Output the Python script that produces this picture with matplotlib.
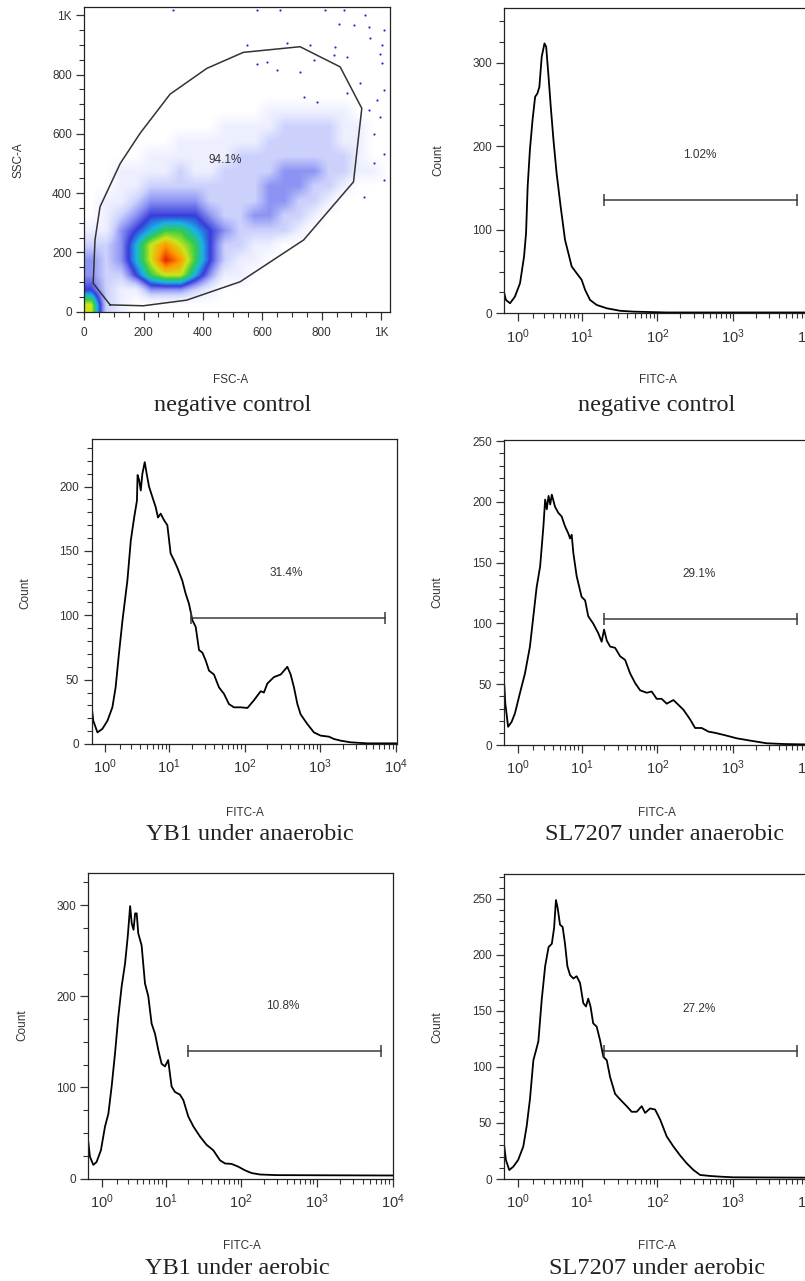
# Flow cytometry panels: FSC/SSC dot plot + FITC histograms (FlowJo style)
import numpy as np
import matplotlib
matplotlib.use('Agg')
import matplotlib.pyplot as plt
from matplotlib.colors import LinearSegmentedColormap

plt.rcParams['font.family'] = ['Liberation Sans', 'DejaVu Sans']

W, H = 805, 1281

# ---------------- FSC-A / SSC-A dot plot ----------------
gate_fsc = [87, 199, 345, 525, 739, 907, 924, 935, 862, 727, 536, 413, 289, 188, 121, 53, 36, 30, 87]
gate_ssc = [23, 20, 39, 101, 242, 438, 590, 686, 826, 894, 875, 821, 734, 602, 500, 354, 242, 96, 23]
gate_pct = '94.1%'

# relative event density on a 50-unit grid, top row = SSC 1000-1050, bottom row = SSC 0-50
density_rows = [
    "000000000000000000000",
    "000000000000000000000",
    "000000000000000000000",
    "000000000000000000000",
    "000000000000000000000",
    "000000000000000000000",
    "000000000000000000000",
    "000000000000111111000",
    "000000000111122221100",
    "000000111111222221100",
    "000011111122222222100",
    "001111211222233322110",
    "001122222222333221000",
    "011233332222332210000",
    "012344443223322100000",
    "113456654322221000000",
    "223578764221100000000",
    "323579864211000000000",
    "322467753110000000000",
    "421133321000000000000",
    "721000000000000000000",
]

outlier_fsc = [300, 581, 660, 812, 874, 947, 857, 908, 958, 1009, 964, 1003, 846, 997, 840, 581, 615,
               773, 885, 1003, 930, 1009, 986, 885, 739, 784, 649, 728, 958, 997, 975, 1009, 975,
               1009, 941, 548, 683, 761]
outlier_ssc = [1017, 1017, 1017, 1017, 1017, 1001, 970, 967, 961, 950, 922, 899, 894, 871, 865, 837,
               843, 849, 860, 838, 770, 748, 714, 737, 726, 708, 815, 809, 680, 657, 601, 533, 500,
               446, 388, 899, 905, 899]

# ---------------- FITC-A histograms ----------------
neg_fitc = [0.29, 0.37, 0.58, 0.84, 1.13, 1.38, 1.51, 1.62, 1.78, 1.98, 2.18, 2.37, 2.55, 2.77, 3.05,
            3.23, 3.50, 3.76, 4.11, 4.55, 5.18, 5.95, 6.61, 7.33, 8.55, 9.98, 11.1, 12.9, 15.8, 21.5,
            32.3, 48.3, 133, 8930, 10000]
neg_count = [24, 16, 12, 20, 36, 68, 96, 152, 196, 232, 259, 263, 271, 307, 323, 319, 283, 248, 208,
             168, 128, 88, 72, 56, 48, 40, 28, 16, 10, 6, 3, 2, 1, 1, 1]

yb1_an_fitc = [0.29, 0.37, 0.58, 0.84, 1.13, 1.44, 1.66, 1.90, 2.18, 2.61, 2.94, 3.30, 3.62, 3.70, 3.90,
               4.11, 4.33, 4.67, 4.97, 5.36, 5.95, 6.61, 7.10, 7.72, 8.55, 9.49, 10.5, 11.6, 12.9, 15.0,
               16.6, 18.4, 20.5, 22.6, 25.0, 27.7, 30.6, 33.9, 39.4, 45.9, 53.4, 62.2, 72.4, 88.8, 109,
               133, 163, 180, 200, 244, 300, 367, 406, 449, 498, 550, 674, 824, 1010, 1300, 1514, 1855,
               2515, 4178, 10000]
yb1_an_count = [28.5, 18, 9, 11.7, 18, 28.5, 44, 70, 96, 127, 158, 176, 189, 209, 205, 197, 210, 219,
                210, 200, 192, 184, 176, 179, 174, 170, 148, 143, 137, 127, 117, 109, 96, 91, 73, 71, 65,
                57, 54, 44, 39, 31, 28.5, 28.5, 28, 34, 41, 40, 47, 52, 54, 60, 54, 44, 31, 23, 15.5, 9,
                6.5, 5.7, 3.9, 2.6, 1.3, 0.5, 0.5]

sl_an_fitc = [0.29, 0.34, 0.40, 0.48, 0.66, 0.84, 1.13, 1.44, 1.78, 2.04, 2.31, 2.62, 2.94, 3.12, 3.30,
              3.50, 3.70, 3.90, 4.33, 4.82, 5.36, 5.95, 6.61, 6.97, 7.33, 7.72, 8.55, 9.95, 11.1, 12.2,
              14.2, 16.6, 18.4, 19.8, 21.5, 23.8, 27.7, 32.3, 37.6, 43.7, 50.9, 59.3, 72.4, 84.3, 98.1,
              114, 133, 163, 190, 221, 271, 315, 385, 473, 579, 785, 1117, 1679, 2780, 4618, 8933, 10000]
sl_an_count = [49, 34, 26, 15, 19, 26, 43, 59, 81, 106, 130, 147, 180, 202, 194, 205, 198, 206, 196, 191,
               188, 180, 174, 170, 173, 158, 139, 122, 119, 106, 100, 92, 85, 95, 86, 81, 80, 73, 70, 59,
               51, 45, 43, 44, 38, 38, 34, 37, 33, 29, 21, 14, 14, 11, 10, 8, 5.5, 3.6, 1.4, 0.8, 0.5, 0.5]

yb1_ae_fitc = [0.29, 0.37, 0.54, 0.71, 0.95, 1.19, 1.40, 1.62, 1.86, 2.12, 2.40, 2.71, 2.98, 3.23, 3.41,
               3.62, 3.82, 4.02, 4.23, 4.71, 5.25, 5.83, 6.47, 7.19, 7.97, 8.82, 9.79, 10.8, 12.0, 13.3,
               15.5, 17.2, 20.0, 23.4, 28.6, 34.9, 42.8, 52.5, 61.1, 74.6, 91.5, 112, 137, 177, 293, 10000]
yb1_ae_count = [40, 24, 15, 18, 31, 57, 71, 101, 137, 178, 211, 236, 266, 299, 280, 273, 291, 291, 269,
                256, 214, 200, 170, 159, 141, 126, 123, 130, 101, 95, 92, 86, 68, 57, 46, 37, 31, 20,
                16.5, 16, 13, 9, 6, 4.4, 3.7, 3.3]

sl_ae_fitc = [0.29, 0.37, 0.54, 0.75, 1.02, 1.33, 1.55, 1.78, 2.04, 2.26, 2.46, 2.77, 3.12, 3.50, 3.90,
              4.20, 4.46, 4.71, 5.08, 5.52, 5.95, 6.41, 6.97, 7.72, 8.55, 9.49, 10.5, 11.4, 12.2, 13.1,
              14.2, 15.8, 17.5, 19.4, 21.5, 23.8, 27.7, 32.3, 39.4, 45.9, 53.4, 62.2, 69.0, 80.3, 93.5,
              109, 133, 163, 200, 244, 300, 367, 498, 674, 1010, 8933, 10000]
sl_ae_count = [29, 17, 8, 11, 17, 29, 47, 71, 106, 115, 123, 160, 190, 207, 210, 224, 249, 242, 227, 225,
               210, 190, 182, 179, 181, 175, 157, 154, 161, 154, 139, 136, 124, 109, 106, 91, 76, 71, 65,
               60, 60, 65, 59, 63, 62, 53, 38, 29, 21, 14, 8, 3.6, 2.7, 2.1, 1.5, 1.2, 1.2]

gate_lo, gate_hi = 19.7, 7050
pct_labels = ['1.02%', '31.4%', '29.1%', '10.8%', '27.2%']
gate_levels = [135, 98, 104, 140, 114]
pct_levels = [190, 133, 141, 189, 152]
titles = ['negative control', 'negative control', 'YB1 under anaerobic', 'SL7207 under anaerobic',
          'YB1 under aerobic', 'SL7207 under aerobic']

TXT = '#333333'
fig = plt.figure(figsize=(W / 100, H / 100), dpi=100)


def box(left, top, right, bottom):
    return fig.add_axes([left / W, 1 - bottom / H, (right - left) / W, (bottom - top) / H])


def ftext(px, py, s, **kw):
    fig.text(px / W, 1 - py / H, s, ha='center', va='center', **kw)


def style(ax):
    for sp in ax.spines.values():
        sp.set_linewidth(0.9)
        sp.set_color('#222222')
    ax.tick_params(which='major', direction='out', length=6, width=0.9, pad=3,
                   labelsize=8.5, labelcolor=TXT, color='#333333')
    ax.tick_params(which='minor', direction='out', length=3.5, width=0.8, color='#333333')


# ---------------- dot plot ----------------
ax = box(84.3, 7, 390, 311.7)
dens = np.array([[int(c) for c in row] for row in density_rows[::-1]], dtype=float)
cmap = LinearSegmentedColormap.from_list('flow', [
    (1, 1, 1), (0.93, 0.94, 1.0), (0.80, 0.82, 0.99), (0.55, 0.58, 0.95), (0.22, 0.24, 0.86),
    (0.1, 0.7, 0.9), (0.2, 0.8, 0.3), (0.8, 0.9, 0.1), (1.0, 0.6, 0.0), (0.9, 0.15, 0.0)])
ax.imshow(dens, origin='lower', extent=(0, 1050, 0, 1050), cmap=cmap, vmin=0, vmax=9,
          interpolation='bilinear', aspect='auto')
ax.scatter(outlier_fsc, outlier_ssc, s=2.5, color='#2a2ad0', linewidths=0)
ax.plot(gate_fsc, gate_ssc, color='#333333', lw=1.1)
ax.text(475, 512, gate_pct, ha='center', va='center', fontsize=8.5, color=TXT)
ax.set_xlim(0, 1030)
ax.set_ylim(0, 1028)
lin_major = [0, 200, 400, 600, 800, 1000]
lin_labels = ['0', '200', '400', '600', '800', '1K']
lin_minor = [v for v in range(50, 1001, 50) if v % 200]
ax.set_xticks(lin_major, lin_labels)
ax.set_yticks(lin_major, lin_labels)
ax.set_xticks(lin_minor, minor=True)
ax.set_yticks(lin_minor, minor=True)
style(ax)
ax.tick_params(axis='x', which='major', pad=5)
ftext(18, 160, 'SSC-A', fontsize=8.5, color=TXT, rotation=90)
ftext(231, 380, 'FSC-A', fontsize=8.5, color=TXT)


# ---------------- histograms ----------------
def fwd(x):
    return np.arcsinh(np.asarray(x) / 1.6)


def inv(y):
    return 1.6 * np.sinh(np.asarray(y))


dec_major = [1, 10, 100, 1000, 10000]
dec_labels = [r'$\mathregular{10^{%d}}$' % k for k in range(5)]
dec_minor = [m * 10 ** k for k in range(4) for m in range(2, 10)]

hists = [
    # (left, top, right, bottom), fitc, count, ymax, major step, minor step, count label pos, xlabel pos
    ((504.3, 8.3, 809.6, 313.3), neg_fitc, neg_count, 365, 100, 25, (438, 160), (658, 380)),
    ((91.7, 439, 396.7, 744), yb1_an_fitc, yb1_an_count, 237, 50, 10, (25, 593), (245, 813)),
    ((504.3, 440, 809.6, 745), sl_an_fitc, sl_an_count, 251, 50, 10, (437, 592), (657, 813)),
    ((88.3, 873.3, 393.3, 1178.5), yb1_ae_fitc, yb1_ae_count, 335, 100, 25, (22, 1025), (242, 1246)),
    ((504.3, 874.3, 809.6, 1179), sl_ae_fitc, sl_ae_count, 272, 50, 10, (437, 1027), (657, 1246)),
]

for i, (pos, fitc, count, ymax, step, mstep, cpos, xpos) in enumerate(hists):
    ax = box(*pos)
    ax.plot(fitc, count, color='black', lw=1.3)
    ax.set_xscale('function', functions=(fwd, inv))
    ax.set_xlim(0.29, 10200)
    ax.set_ylim(0, ymax)
    ax.set_xticks(dec_major, dec_labels)
    ax.set_xticks(dec_minor, minor=True)
    ax.set_xticklabels([], minor=True)
    ax.set_yticks(np.arange(0, ymax, step))
    ax.set_yticks([v for v in np.arange(mstep, ymax, mstep) if v % step], minor=True)
    gy = gate_levels[i]
    ax.plot([gate_lo, gate_hi], [gy, gy], color='#3a3a3a', lw=1.1)
    ax.plot([gate_lo, gate_hi], [gy, gy], ls='none', marker='|', ms=9, mew=1.1, color='#3a3a3a')
    ax.text(359, pct_levels[i], pct_labels[i], ha='center', va='center', fontsize=8.5, color=TXT)
    style(ax)
    ax.tick_params(axis='x', which='major', labelsize=10.5, pad=4)
    ftext(cpos[0], cpos[1], 'Count', fontsize=8.5, color=TXT, rotation=90)
    ftext(xpos[0], xpos[1], 'FITC-A', fontsize=8.5, color=TXT)

# panel captions
cap_pos = [(233, 405), (657, 405), (250, 835), (665, 835), (237, 1269), (657, 1269)]
for (cx, cy), t in zip(cap_pos, titles):
    ftext(cx, cy, t, fontsize=17.5, color='#222222', family=['Liberation Serif', 'DejaVu Serif'])

fig.savefig('out.png', dpi=100)
